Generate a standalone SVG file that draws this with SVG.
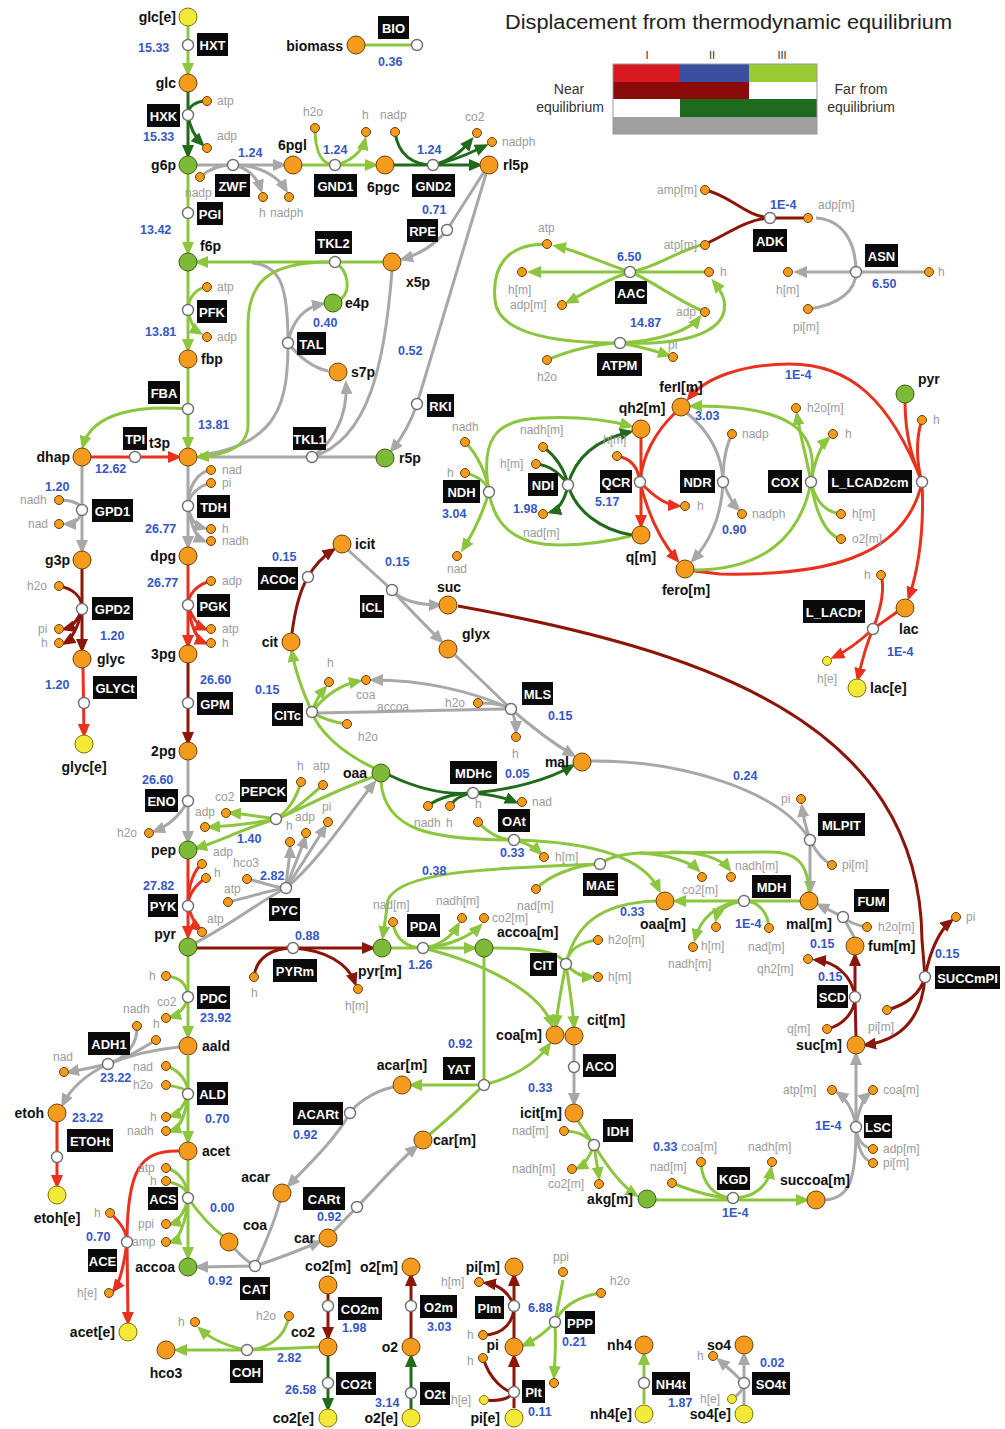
<svg xmlns="http://www.w3.org/2000/svg" width="1005" height="1429" viewBox="0 0 1005 1429">
<defs>
<style>
.l{fill:none;stroke-width:3}
.g{stroke:#8CC63E}.dg{stroke:#1F6B1A}.r{stroke:#E8321E}.dr{stroke:#8B1508}.gy{stroke:#A8A8A8}
.rx rect{fill:#0a0a0a}
.rx circle{fill:#fff;stroke:#6e6e6e;stroke-width:1.4}
.b{fill:#fff;font:bold 13px 'Liberation Sans',Arial,sans-serif;text-anchor:middle}
.f{fill:#3557C4;font:bold 12.5px 'Liberation Sans',Arial,sans-serif}
.mt{fill:#111;font:bold 14px 'Liberation Sans',Arial,sans-serif}
.e{text-anchor:end}.md{text-anchor:middle}
.ct{fill:#9b9b9b;font:12px 'Liberation Sans',Arial,sans-serif}
.M circle,.c circle{fill:#F49B1E;stroke:#6b4208;stroke-width:1}
.G circle{fill:#7DBA37;stroke:#3f5e14;stroke-width:1}
.Y circle,.cy circle{fill:#F3EA38;stroke:#7d7210;stroke-width:1}
.lg{font:14px 'Liberation Sans',Arial,sans-serif;fill:#333;text-anchor:middle}
</style>
<marker id="ag" viewBox="0 0 14 12" refX="10" refY="6" markerWidth="14" markerHeight="12" orient="auto" markerUnits="userSpaceOnUse"><path d="M0,0 L14,6 L0,12 z" fill="#8CC63E"/></marker>
<marker id="adg" viewBox="0 0 14 12" refX="10" refY="6" markerWidth="14" markerHeight="12" orient="auto" markerUnits="userSpaceOnUse"><path d="M0,0 L14,6 L0,12 z" fill="#1F6B1A"/></marker>
<marker id="ar" viewBox="0 0 14 12" refX="10" refY="6" markerWidth="14" markerHeight="12" orient="auto" markerUnits="userSpaceOnUse"><path d="M0,0 L14,6 L0,12 z" fill="#E8321E"/></marker>
<marker id="adr" viewBox="0 0 14 12" refX="10" refY="6" markerWidth="14" markerHeight="12" orient="auto" markerUnits="userSpaceOnUse"><path d="M0,0 L14,6 L0,12 z" fill="#8B1508"/></marker>
<marker id="agy" viewBox="0 0 14 12" refX="10" refY="6" markerWidth="14" markerHeight="12" orient="auto" markerUnits="userSpaceOnUse"><path d="M0,0 L14,6 L0,12 z" fill="#A8A8A8"/></marker>
</defs>
<rect width="1005" height="1429" fill="#fff"/>

<g id="legend">
<text x="505" y="29" textLength="447" lengthAdjust="spacingAndGlyphs" style="font:20px 'Liberation Sans',Arial,sans-serif;fill:#222">Displacement from thermodynamic equilibrium</text>
<text class="lg" x="647" y="59" style="font-size:11px">I</text>
<text class="lg" x="712" y="59" style="font-size:11px">II</text>
<text class="lg" x="782" y="59" style="font-size:11px">III</text>
<rect x="613" y="64" width="67" height="18" fill="#D71920"/>
<rect x="680" y="64" width="69" height="18" fill="#3A4FA0"/>
<rect x="749" y="64" width="68" height="18" fill="#99CC33"/>
<rect x="613" y="82" width="136" height="17" fill="#8B0A0A"/>
<rect x="749" y="82" width="68" height="17" fill="#fff"/>
<rect x="613" y="99" width="67" height="18" fill="#fff"/>
<rect x="680" y="99" width="137" height="18" fill="#1E6B1E"/>
<rect x="613" y="117" width="204" height="17" fill="#A0A0A0"/>
<rect x="613" y="64" width="204" height="70" fill="none" stroke="#999" stroke-width="1"/>
<text class="lg" x="569" y="94">Near</text>
<text class="lg" x="570" y="112">equilibrium</text>
<text class="lg" x="861" y="94">Far from</text>
<text class="lg" x="861" y="112">equilibrium</text>
</g>

<g id="connectors">
<path class="l g" d="M188,26 L188,73" marker-end="url(#ag)"/>
<path class="l dg" d="M188,92 L188,155" marker-end="url(#adg)"/>
<path class="l dg" d="M207,101 C196,101 188,106 188,115"/>
<path class="l dg" d="M188,115 C190,128 196,138 202,144" marker-end="url(#adg)"/>
<path class="l gy" d="M197,165 L283,165" marker-end="url(#agy)"/>
<path class="l gy" d="M200,177 C210,168 220,165 233,165"/>
<path class="l gy" d="M233,165 C247,168 257,177 261,190" marker-end="url(#agy)"/>
<path class="l gy" d="M233,165 C258,165 277,175 286,190" marker-end="url(#agy)"/>
<path class="l g" d="M302,165 L375,165" marker-end="url(#ag)"/>
<path class="l g" d="M315,128 C315,152 322,165 335,165"/>
<path class="l g" d="M335,165 C350,162 362,152 365,140" marker-end="url(#ag)"/>
<path class="l dg" d="M394,165 L479,165" marker-end="url(#adg)"/>
<path class="l dg" d="M395,132 C398,155 413,165 433,165"/>
<path class="l dg" d="M433,165 C450,161 463,150 471,140" marker-end="url(#adg)"/>
<path class="l dg" d="M433,165 C455,161 472,152 485,146" marker-end="url(#adg)"/>
<path class="l g" d="M356,45 L417,45"/>
<path class="l g" d="M188,174 L188,252" marker-end="url(#ag)"/>
<path class="l g" d="M188,271 L188,349" marker-end="url(#ag)"/>
<path class="l g" d="M207,287 C196,288 188,298 188,310"/>
<path class="l g" d="M188,310 C190,322 195,330 200,333" marker-end="url(#ag)"/>
<path class="l g" d="M188,368 L188,447" marker-end="url(#ag)"/>
<path class="l g" d="M188,409 C140,405 92,412 83,446" marker-end="url(#ag)"/>
<path class="l r" d="M91,457 L178,457" marker-end="url(#ar)"/>
<path class="l gy" d="M252,263 C280,265 288,285 288,343"/>
<path class="l gy" d="M288,343 C292,320 305,307 322,304" marker-end="url(#agy)"/>
<path class="l gy" d="M288,343 C300,358 314,368 328,371"/>
<path class="l gy" d="M288,343 C288,400 280,445 200,455"/>
<path class="l gy" d="M376,457 L198,457"/>
<path class="l gy" d="M312,457 C330,445 348,420 346,384" marker-end="url(#agy)"/>
<path class="l gy" d="M392,271 C385,360 370,440 312,457"/>
<path class="l gy" d="M484,172 L447,230 C435,245 418,255 403,259" marker-end="url(#agy)"/>
<path class="l gy" d="M486,174 L417,404 C410,425 400,440 392,450" marker-end="url(#agy)"/>
<path class="l g" d="M383,262 L198,262" marker-end="url(#ag)"/>
<path class="l g" d="M335,262 C350,272 350,292 341,299"/>
<path class="l g" d="M330,262 C265,262 248,285 248,325 L248,425 C248,448 225,455 199,457" marker-end="url(#ag)"/>
<path class="l gy" d="M188,466 L188,546" marker-end="url(#agy)"/>
<path class="l gy" d="M211,470 C197,472 188,487 188,506"/>
<path class="l gy" d="M211,483 C198,486 189,495 188,506"/>
<path class="l gy" d="M188,506 C190,518 196,526 204,528" marker-end="url(#agy)"/>
<path class="l gy" d="M188,506 C191,526 197,538 204,541" marker-end="url(#agy)"/>
<path class="l gy" d="M82,466 L82,550" marker-end="url(#agy)"/>
<path class="l gy" d="M59,500 C72,500 82,504 82,510"/>
<path class="l gy" d="M82,510 C80,520 74,524 66,524" marker-end="url(#agy)"/>
<path class="l dr" d="M82,569 L82,649" marker-end="url(#adr)"/>
<path class="l dr" d="M59,586 C75,589 82,598 82,609"/>
<path class="l dr" d="M82,609 C78,620 72,627 65,629" marker-end="url(#adr)"/>
<path class="l dr" d="M82,609 C78,630 70,640 65,643" marker-end="url(#adr)"/>
<path class="l r" d="M83,668 L84,734" marker-end="url(#ar)"/>
<path class="l r" d="M188,565 L188,645" marker-end="url(#ar)"/>
<path class="l r" d="M211,581 C198,584 188,594 188,605"/>
<path class="l r" d="M188,605 C191,616 198,626 205,629" marker-end="url(#ar)"/>
<path class="l r" d="M188,605 C191,628 198,640 205,643" marker-end="url(#ar)"/>
<path class="l dr" d="M188,663 L188,742" marker-end="url(#adr)"/>
<path class="l gy" d="M188,760 L188,841" marker-end="url(#agy)"/>
<path class="l gy" d="M188,801 C180,815 168,826 155,831" marker-end="url(#agy)"/>
<path class="l g" d="M373,777 C330,792 300,810 276,819"/>
<path class="l g" d="M301,782 C296,800 286,813 276,819"/>
<path class="l g" d="M323,785 C305,800 290,815 276,819"/>
<path class="l g" d="M276,819 C245,828 218,842 197,848" marker-end="url(#ag)"/>
<path class="l g" d="M276,819 C262,817 245,814 231,813" marker-end="url(#ag)"/>
<path class="l g" d="M276,819 C255,823 230,826 210,827" marker-end="url(#ag)"/>
<path class="l gy" d="M195,943 C230,925 262,900 286,888 C320,860 352,810 374,783" marker-end="url(#agy)"/>
<path class="l gy" d="M247,879 C262,882 276,888 286,888"/>
<path class="l gy" d="M228,902 C250,897 270,890 286,888"/>
<path class="l gy" d="M286,888 C287,870 290,858 290,848" marker-end="url(#agy)"/>
<path class="l gy" d="M286,888 C294,866 302,848 305,838" marker-end="url(#agy)"/>
<path class="l gy" d="M286,888 C305,860 317,840 325,827" marker-end="url(#agy)"/>
<path class="l r" d="M188,859 L188,936" marker-end="url(#ar)"/>
<path class="l r" d="M202,864 C194,870 188,885 188,906"/>
<path class="l r" d="M206,878 C196,884 188,895 188,906"/>
<path class="l r" d="M188,906 C192,918 197,927 200,929" marker-end="url(#ar)"/>
<path class="l dr" d="M197,948 L372,948" marker-end="url(#adr)"/>
<path class="l dr" d="M254,977 C256,957 273,948 293,948"/>
<path class="l dr" d="M293,948 C325,950 348,963 355,983" marker-end="url(#adr)"/>
<path class="l g" d="M188,956 L188,1036" marker-end="url(#ag)"/>
<path class="l g" d="M166,976 C180,977 188,985 188,997"/>
<path class="l g" d="M188,997 C186,1007 178,1015 171,1017" marker-end="url(#ag)"/>
<path class="l gy" d="M179,1047 C150,1050 125,1057 108,1064 C85,1075 70,1090 63,1104" marker-end="url(#agy)"/>
<path class="l gy" d="M137,1026 C138,1045 125,1058 108,1064"/>
<path class="l gy" d="M156,1040 C140,1050 122,1060 108,1064"/>
<path class="l gy" d="M108,1064 C95,1067 80,1070 69,1072" marker-end="url(#agy)"/>
<path class="l r" d="M57,1122 L57,1185" marker-end="url(#ar)"/>
<path class="l g" d="M188,1056 L188,1141" marker-end="url(#ag)"/>
<path class="l g" d="M166,1066 C180,1070 188,1082 188,1094"/>
<path class="l g" d="M166,1085 C180,1087 188,1090 188,1094"/>
<path class="l g" d="M188,1094 C185,1105 178,1114 171,1116" marker-end="url(#ag)"/>
<path class="l g" d="M188,1094 C186,1114 180,1128 171,1131" marker-end="url(#ag)"/>
<path class="l g" d="M188,1159 L188,1257" marker-end="url(#ag)"/>
<path class="l g" d="M166,1168 C180,1171 188,1185 188,1198"/>
<path class="l g" d="M166,1181 C180,1184 188,1190 188,1198"/>
<path class="l g" d="M223,1236 C212,1228 198,1212 188,1198"/>
<path class="l g" d="M188,1198 C186,1210 178,1222 171,1224" marker-end="url(#ag)"/>
<path class="l g" d="M188,1198 C186,1225 178,1240 171,1242" marker-end="url(#ag)"/>
<path class="l r" d="M179,1151 C140,1150 127,1170 127,1242 L128,1322" marker-end="url(#ar)"/>
<path class="l r" d="M110,1213 C120,1222 127,1232 127,1242"/>
<path class="l r" d="M127,1242 C124,1265 120,1282 114,1290" marker-end="url(#ar)"/>
<path class="l gy" d="M255,1266 L198,1267" marker-end="url(#agy)"/>
<path class="l gy" d="M235,1249 C242,1257 248,1262 255,1266"/>
<path class="l gy" d="M280,1201 C274,1225 262,1250 255,1266"/>
<path class="l gy" d="M255,1266 C280,1258 300,1250 319,1242" marker-end="url(#agy)"/>
<path class="l gy" d="M333,1232 L357,1207 C380,1183 400,1160 416,1147" marker-end="url(#agy)"/>
<path class="l gy" d="M393,1087 C372,1092 356,1104 350,1113 C335,1140 308,1165 289,1185" marker-end="url(#agy)"/>
<path class="l g" d="M484,957 L484,1085"/>
<path class="l g" d="M484,1085 L412,1085" marker-end="url(#ag)"/>
<path class="l g" d="M430,1134 C450,1118 470,1098 484,1085"/>
<path class="l g" d="M484,1085 C510,1078 535,1065 549,1045" marker-end="url(#ag)"/>
<path class="l g" d="M391,948 L474,948" marker-end="url(#ag)"/>
<path class="l g" d="M393,922 C395,940 408,948 423,948"/>
<path class="l g" d="M423,948 C440,946 452,936 458,925" marker-end="url(#ag)"/>
<path class="l g" d="M423,948 C450,946 470,936 480,926" marker-end="url(#ag)"/>
<path class="l g" d="M423,948 C480,962 540,990 552,1025" marker-end="url(#ag)"/>
<path class="l g" d="M493,948 C530,948 558,950 566,964"/>
<path class="l g" d="M656,901 C600,903 575,925 566,964"/>
<path class="l g" d="M566,964 C570,990 573,1010 574,1026" marker-end="url(#ag)"/>
<path class="l g" d="M566,964 C561,990 557,1010 556,1025" marker-end="url(#ag)"/>
<path class="l g" d="M598,940 C580,942 568,950 566,964"/>
<path class="l g" d="M566,964 C575,975 585,977 592,977" marker-end="url(#ag)"/>
<path class="l gy" d="M574,1044 L574,1103" marker-end="url(#agy)"/>
<path class="l g" d="M578,1121 L594,1145 C608,1168 622,1186 636,1195" marker-end="url(#ag)"/>
<path class="l g" d="M564,1131 C580,1131 590,1138 594,1145"/>
<path class="l g" d="M594,1145 C590,1156 584,1165 578,1168" marker-end="url(#ag)"/>
<path class="l g" d="M594,1145 C596,1160 598,1170 599,1177" marker-end="url(#ag)"/>
<path class="l g" d="M656,1200 L806,1200" marker-end="url(#ag)"/>
<path class="l g" d="M701,1162 C702,1185 715,1197 733,1198"/>
<path class="l g" d="M672,1183 C695,1192 715,1198 733,1198"/>
<path class="l g" d="M733,1198 C755,1198 768,1185 771,1169" marker-end="url(#ag)"/>
<path class="l gy" d="M825,1200 C850,1198 856,1180 856,1127 L856,1055" marker-end="url(#agy)"/>
<path class="l gy" d="M856,1127 C854,1110 845,1098 838,1093" marker-end="url(#agy)"/>
<path class="l gy" d="M856,1127 C858,1110 864,1098 869,1094" marker-end="url(#agy)"/>
<path class="l gy" d="M873,1149 C862,1147 857,1140 856,1127"/>
<path class="l gy" d="M873,1163 C862,1160 857,1145 856,1127"/>
<path class="l dr" d="M856,1036 L855,997 L855,956" marker-end="url(#adr)"/>
<path class="l dr" d="M827,1029 C845,1025 855,1010 855,997"/>
<path class="l dr" d="M855,997 C852,975 835,962 816,960" marker-end="url(#adr)"/>
<path class="l dr" d="M458,606 C700,650 920,720 922,940 L925,977 C922,1020 900,1040 866,1045" marker-end="url(#adr)"/>
<path class="l dr" d="M925,977 C930,950 940,930 951,921" marker-end="url(#adr)"/>
<path class="l dr" d="M887,1010 C905,1005 920,995 925,977"/>
<path class="l gy" d="M854,937 L843,917 L819,905" marker-end="url(#agy)"/>
<path class="l gy" d="M867,927 C855,925 848,922 843,917"/>
<path class="l gy" d="M590,761 C680,760 780,790 810,840 L810,891" marker-end="url(#agy)"/>
<path class="l gy" d="M810,840 C805,825 803,815 802,807" marker-end="url(#agy)"/>
<path class="l gy" d="M832,865 C822,860 815,850 810,840"/>
<path class="l g" d="M800,901 L744,901 L676,901" marker-end="url(#ag)"/>
<path class="l g" d="M769,928 C768,912 758,901 744,901"/>
<path class="l g" d="M744,901 C728,903 718,910 716,919" marker-end="url(#ag)"/>
<path class="l g" d="M744,901 C715,903 700,920 695,939" marker-end="url(#ag)"/>
<path class="l g" d="M809,892 C808,862 795,852 770,852 L640,853 C620,854 608,858 600,864"/>
<path class="l g" d="M600,864 C500,868 400,870 388,900 L383,936" marker-end="url(#ag)"/>
<path class="l g" d="M640,853 C670,855 690,862 698,870" marker-end="url(#ag)"/>
<path class="l g" d="M670,852 C705,852 722,860 729,869" marker-end="url(#ag)"/>
<path class="l g" d="M536,889 C548,876 575,865 600,864"/>
<path class="l g" d="M381,782 C385,830 430,840 514,840 C600,842 645,860 659,890" marker-end="url(#ag)"/>
<path class="l g" d="M478,822 C490,835 502,840 514,840"/>
<path class="l g" d="M514,840 C528,843 536,849 540,853" marker-end="url(#ag)"/>
<path class="l dg" d="M389,775 C420,790 450,795 473,793 C510,790 548,780 572,766" marker-end="url(#adg)"/>
<path class="l dg" d="M428,806 C440,796 460,793 473,793"/>
<path class="l dg" d="M450,806 C455,798 465,794 473,793"/>
<path class="l dg" d="M473,793 C495,795 508,799 515,802" marker-end="url(#adg)"/>
<path class="l gy" d="M348,550 L392,590 C408,608 428,628 441,641" marker-end="url(#agy)"/>
<path class="l gy" d="M392,590 C400,600 418,605 439,605" marker-end="url(#agy)"/>
<path class="l gy" d="M455,655 L511,709 C535,730 556,745 573,755" marker-end="url(#agy)"/>
<path class="l gy" d="M511,709 C470,690 420,680 373,680" marker-end="url(#agy)"/>
<path class="l gy" d="M318,713 C400,712 470,709 511,709"/>
<path class="l gy" d="M478,703 C494,703 505,705 511,709"/>
<path class="l gy" d="M511,709 C515,718 516,726 516,731" marker-end="url(#agy)"/>
<path class="l g" d="M374,768 C340,752 318,730 312,712 C302,690 295,670 292,652" marker-end="url(#ag)"/>
<path class="l g" d="M312,712 C325,695 340,685 359,681" marker-end="url(#ag)"/>
<path class="l g" d="M312,712 C315,702 320,694 325,688" marker-end="url(#ag)"/>
<path class="l g" d="M347,724 C330,722 318,716 312,712"/>
<path class="l dr" d="M292,633 C295,610 300,590 308,577 C314,566 324,556 333,550" marker-end="url(#adr)"/>
<path class="l g" d="M465,442 C478,455 487,475 489,492"/>
<path class="l g" d="M465,473 C478,476 487,483 489,492"/>
<path class="l g" d="M489,492 C482,515 472,535 463,549" marker-end="url(#ag)"/>
<path class="l g" d="M489,492 C480,440 495,420 540,418 C580,416 608,420 630,426" marker-end="url(#ag)"/>
<path class="l g" d="M489,492 C495,530 520,545 560,545 C590,545 615,540 631,536"/>
<path class="l dg" d="M543,447 C555,455 565,470 568,485"/>
<path class="l dg" d="M536,464 C550,465 562,475 568,485"/>
<path class="l dg" d="M568,485 C565,500 558,510 551,512" marker-end="url(#adg)"/>
<path class="l dg" d="M568,485 C575,458 595,440 630,432" marker-end="url(#adg)"/>
<path class="l dg" d="M632,535 C600,530 575,510 568,485"/>
<path class="l r" d="M641,438 L641,525" marker-end="url(#ar)"/>
<path class="l r" d="M617,456 C630,458 638,466 640,482"/>
<path class="l r" d="M675,413 C655,432 642,457 640,482"/>
<path class="l r" d="M640,482 C648,515 662,542 677,560" marker-end="url(#ar)"/>
<path class="l r" d="M640,482 C655,498 667,505 678,506" marker-end="url(#ar)"/>
<path class="l gy" d="M687,413 C710,432 722,456 723,482 C722,520 706,546 693,560" marker-end="url(#agy)"/>
<path class="l gy" d="M732,434 C726,446 723,462 723,482"/>
<path class="l gy" d="M723,482 C728,495 734,505 738,509" marker-end="url(#agy)"/>
<path class="l r" d="M922,482 C905,560 820,576 720,574 L694,571"/>
<path class="l g" d="M694,570 C760,570 800,540 811,482 C820,430 790,405 692,406" marker-end="url(#ag)"/>
<path class="l g" d="M811,482 C806,455 800,435 797,415" marker-end="url(#ag)"/>
<path class="l g" d="M811,482 C815,460 820,446 828,439" marker-end="url(#ag)"/>
<path class="l g" d="M841,514 C825,512 815,500 811,482"/>
<path class="l g" d="M841,539 C825,535 815,510 811,482"/>
<path class="l r" d="M922,482 C890,400 850,364 790,364 C742,364 705,378 689,398" marker-end="url(#ar)"/>
<path class="l r" d="M905,402 C905,440 915,465 922,482"/>
<path class="l r" d="M922,420 C915,440 917,465 922,482"/>
<path class="l r" d="M922,482 C925,540 915,580 909,597" marker-end="url(#ar)"/>
<path class="l r" d="M897,612 L873,629 C866,645 861,665 858,678" marker-end="url(#ar)"/>
<path class="l r" d="M881,575 C886,592 878,616 873,629"/>
<path class="l r" d="M873,629 C860,641 845,652 834,657" marker-end="url(#ar)"/>
<path class="l dr" d="M705,190 C730,195 745,216 770,218"/>
<path class="l dr" d="M705,244 C725,236 745,219 770,218"/>
<path class="l dr" d="M770,218 L808,218"/>
<path class="l gy" d="M816,218 C845,220 856,245 856,272"/>
<path class="l gy" d="M808,309 C840,305 856,290 856,272"/>
<path class="l gy" d="M856,272 L929,272"/>
<path class="l gy" d="M856,272 L797,272" marker-end="url(#agy)"/>
<path class="l g" d="M630,272 C600,262 575,250 556,246" marker-end="url(#ag)"/>
<path class="l g" d="M630,272 L531,272" marker-end="url(#ag)"/>
<path class="l g" d="M630,272 C600,282 580,296 568,302" marker-end="url(#ag)"/>
<path class="l g" d="M705,244 C678,250 656,268 630,272"/>
<path class="l g" d="M709,272 L630,272"/>
<path class="l g" d="M705,312 C675,300 652,280 630,272"/>
<path class="l g" d="M547,244 C505,244 492,268 495,300 C498,335 560,343 620,343"/>
<path class="l g" d="M547,360 C570,350 600,343 620,343"/>
<path class="l g" d="M620,343 C660,341 690,330 699,318" marker-end="url(#ag)"/>
<path class="l g" d="M620,343 C690,346 730,330 724,300 C722,292 718,287 714,282" marker-end="url(#ag)"/>
<path class="l g" d="M620,343 C640,346 658,352 668,355" marker-end="url(#ag)"/>
<path class="l g" d="M644,1404 L644,1355" marker-end="url(#ag)"/>
<path class="l gy" d="M744,1405 L744,1355" marker-end="url(#agy)"/>
<path class="l gy" d="M732,1399 C738,1395 744,1390 744,1383"/>
<path class="l gy" d="M744,1383 C735,1374 726,1366 719,1360" marker-end="url(#agy)"/>
<path class="l dr" d="M328,1294 L328,1337" marker-end="url(#adr)"/>
<path class="l dg" d="M328,1356 L328,1408" marker-end="url(#adg)"/>
<path class="l g" d="M319,1347 L247,1350 L177,1350" marker-end="url(#ag)"/>
<path class="l g" d="M289,1316 C285,1340 265,1349 247,1350"/>
<path class="l g" d="M247,1350 C225,1346 210,1338 200,1329" marker-end="url(#ag)"/>
<path class="l dr" d="M411,1338 L411,1276" marker-end="url(#adr)"/>
<path class="l dg" d="M411,1409 L411,1357" marker-end="url(#adg)"/>
<path class="l dr" d="M514,1338 L514,1276" marker-end="url(#adr)"/>
<path class="l dr" d="M483,1335 C505,1335 514,1320 514,1306"/>
<path class="l dr" d="M514,1306 C510,1294 500,1285 486,1283" marker-end="url(#adr)"/>
<path class="l dr" d="M514,1408 L514,1357" marker-end="url(#adr)"/>
<path class="l dr" d="M483,1358 C490,1380 505,1392 514,1392"/>
<path class="l dr" d="M484,1400 C500,1402 510,1398 514,1392"/>
<path class="l g" d="M563,1280 L555,1322"/>
<path class="l g" d="M601,1293 C577,1296 561,1308 555,1322"/>
<path class="l g" d="M555,1322 C545,1333 535,1340 524,1345" marker-end="url(#ag)"/>
<path class="l g" d="M555,1322 C556,1345 555,1362 554,1376" marker-end="url(#ag)"/>
</g>

<g id="cofactors">
<g id="c1" class="c"><circle cx="207" cy="101" r="4.5"/><text class="ct" x="217" y="105">atp</text></g>
<g id="c2" class="c"><circle cx="207" cy="148" r="4.5"/><text class="ct" x="217" y="140">adp</text></g>
<g id="c3" class="c"><circle cx="200" cy="177" r="4.5"/><text class="ct" x="185" y="197">nadp</text></g>
<g id="c4" class="c"><circle cx="263" cy="197" r="4.5"/><text class="ct" x="259" y="217">h</text></g>
<g id="c5" class="c"><circle cx="289" cy="197" r="4.5"/><text class="ct" x="270" y="217">nadph</text></g>
<g id="c6" class="c"><circle cx="315" cy="128" r="4.5"/><text class="ct" x="303" y="116">h2o</text></g>
<g id="c7" class="c"><circle cx="366" cy="132" r="4.5"/><text class="ct" x="362" y="119">h</text></g>
<g id="c8" class="c"><circle cx="395" cy="132" r="4.5"/><text class="ct" x="380" y="119">nadp</text></g>
<g id="c9" class="c"><circle cx="477" cy="133" r="4.5"/><text class="ct" x="465" y="121">co2</text></g>
<g id="c10" class="c"><circle cx="492" cy="142" r="4.5"/><text class="ct" x="502" y="146">nadph</text></g>
<g id="c11" class="c"><circle cx="207" cy="287" r="4.5"/><text class="ct" x="217" y="291">atp</text></g>
<g id="c12" class="c"><circle cx="207" cy="337" r="4.5"/><text class="ct" x="217" y="341">adp</text></g>
<g id="c13" class="c"><circle cx="547" cy="244" r="4.5"/><text class="ct" x="538" y="232">atp</text></g>
<g id="c14" class="c"><circle cx="522" cy="272" r="4.5"/><text class="ct" x="508" y="294">h[m]</text></g>
<g id="c15" class="c"><circle cx="562" cy="305" r="4.5"/><text class="ct" x="510" y="309">adp[m]</text></g>
<g id="c16" class="c"><circle cx="705" cy="245" r="4.5"/><text class="ct e" x="697" y="249">atp[m]</text></g>
<g id="c17" class="c"><circle cx="709" cy="272" r="4.5"/><text class="ct" x="720" y="276">h</text></g>
<g id="c18" class="c"><circle cx="705" cy="312" r="4.5"/><text class="ct e" x="696" y="316">adp</text></g>
<g id="c19" class="c"><circle cx="547" cy="360" r="4.5"/><text class="ct" x="537" y="381">h2o</text></g>
<g id="c20" class="c"><circle cx="673" cy="357" r="4.5"/><text class="ct" x="668" y="349">pi</text></g>
<g id="c21" class="c"><circle cx="705" cy="190" r="4.5"/><text class="ct e" x="697" y="194">amp[m]</text></g>
<g id="c22" class="c"><circle cx="808" cy="218" r="4.5"/><text class="ct" x="818" y="209">adp[m]</text></g>
<g id="c23" class="c"><circle cx="788" cy="272" r="4.5"/><text class="ct" x="776" y="294">h[m]</text></g>
<g id="c24" class="c"><circle cx="808" cy="309" r="4.5"/><text class="ct" x="793" y="331">pi[m]</text></g>
<g id="c25" class="c"><circle cx="929" cy="272" r="4.5"/><text class="ct" x="938" y="276">h</text></g>
<g id="c26" class="c"><circle cx="211" cy="470" r="4.5"/><text class="ct" x="222" y="474">nad</text></g>
<g id="c27" class="c"><circle cx="211" cy="483" r="4.5"/><text class="ct" x="222" y="487">pi</text></g>
<g id="c28" class="c"><circle cx="211" cy="529" r="4.5"/><text class="ct" x="222" y="533">h</text></g>
<g id="c29" class="c"><circle cx="211" cy="541" r="4.5"/><text class="ct" x="222" y="545">nadh</text></g>
<g id="c30" class="c"><circle cx="59" cy="500" r="4.5"/><text class="ct" x="20" y="504">nadh</text></g>
<g id="c31" class="c"><circle cx="59" cy="524" r="4.5"/><text class="ct" x="28" y="528">nad</text></g>
<g id="c32" class="c"><circle cx="59" cy="586" r="4.5"/><text class="ct" x="27" y="590">h2o</text></g>
<g id="c33" class="c"><circle cx="59" cy="629" r="4.5"/><text class="ct" x="38" y="633">pi</text></g>
<g id="c34" class="c"><circle cx="59" cy="643" r="4.5"/><text class="ct" x="41" y="647">h</text></g>
<g id="c35" class="c"><circle cx="211" cy="581" r="4.5"/><text class="ct" x="222" y="585">adp</text></g>
<g id="c36" class="c"><circle cx="211" cy="629" r="4.5"/><text class="ct" x="222" y="633">atp</text></g>
<g id="c37" class="c"><circle cx="211" cy="643" r="4.5"/><text class="ct" x="222" y="647">h</text></g>
<g id="c38" class="c"><circle cx="149" cy="833" r="4.5"/><text class="ct" x="117" y="837">h2o</text></g>
<g id="c39" class="c"><circle cx="301" cy="782" r="4.5"/><text class="ct" x="297" y="770">h</text></g>
<g id="c40" class="c"><circle cx="323" cy="785" r="4.5"/><text class="ct" x="313" y="770">atp</text></g>
<g id="c41" class="c"><circle cx="226" cy="813" r="4.5"/><text class="ct" x="215" y="801">co2</text></g>
<g id="c42" class="c"><circle cx="205" cy="827" r="4.5"/><text class="ct" x="195" y="816">adp</text></g>
<g id="c43" class="c"><circle cx="290" cy="842" r="4.5"/><text class="ct" x="286" y="830">h</text></g>
<g id="c44" class="c"><circle cx="306" cy="833" r="4.5"/><text class="ct" x="295" y="821">adp</text></g>
<g id="c45" class="c"><circle cx="328" cy="822" r="4.5"/><text class="ct" x="322" y="811">pi</text></g>
<g id="c46" class="c"><circle cx="247" cy="879" r="4.5"/><text class="ct" x="233" y="867">hco3</text></g>
<g id="c47" class="c"><circle cx="228" cy="902" r="4.5"/><text class="ct" x="224" y="893">atp</text></g>
<g id="c48" class="c"><circle cx="202" cy="864" r="4.5"/><text class="ct" x="213" y="856">adp</text></g>
<g id="c49" class="c"><circle cx="206" cy="878" r="4.5"/><text class="ct" x="214" y="877">h</text></g>
<g id="c50" class="c"><circle cx="202" cy="932" r="4.5"/><text class="ct" x="207" y="923">atp</text></g>
<g id="c51" class="c"><circle cx="254" cy="977" r="4.5"/><text class="ct" x="251" y="997">h</text></g>
<g id="c52" class="c"><circle cx="358" cy="989" r="4.5"/><text class="ct" x="345" y="1010">h[m]</text></g>
<g id="c53" class="c"><circle cx="166" cy="976" r="4.5"/><text class="ct" x="149" y="980">h</text></g>
<g id="c54" class="c"><circle cx="166" cy="1018" r="4.5"/><text class="ct" x="157" y="1006">co2</text></g>
<g id="c55" class="c"><circle cx="137" cy="1026" r="4.5"/><text class="ct" x="123" y="1013">nadh</text></g>
<g id="c56" class="c"><circle cx="156" cy="1040" r="4.5"/><text class="ct" x="153" y="1028">h</text></g>
<g id="c57" class="c"><circle cx="64" cy="1072" r="4.5"/><text class="ct" x="53" y="1061">nad</text></g>
<g id="c58" class="c"><circle cx="166" cy="1066" r="4.5"/><text class="ct" x="133" y="1071">nad</text></g>
<g id="c59" class="c"><circle cx="166" cy="1085" r="4.5"/><text class="ct" x="133" y="1089">h2o</text></g>
<g id="c60" class="c"><circle cx="166" cy="1117" r="4.5"/><text class="ct" x="150" y="1121">h</text></g>
<g id="c61" class="c"><circle cx="166" cy="1131" r="4.5"/><text class="ct" x="127" y="1135">nadh</text></g>
<g id="c62" class="c"><circle cx="166" cy="1168" r="4.5"/><text class="ct" x="138" y="1172">atp</text></g>
<g id="c63" class="c"><circle cx="166" cy="1181" r="4.5"/><text class="ct" x="150" y="1185">h</text></g>
<g id="c64" class="c"><circle cx="166" cy="1224" r="4.5"/><text class="ct" x="138" y="1228">ppi</text></g>
<g id="c65" class="c"><circle cx="166" cy="1242" r="4.5"/><text class="ct" x="132" y="1246">amp</text></g>
<g id="c66" class="c"><circle cx="110" cy="1213" r="4.5"/><text class="ct" x="94" y="1217">h</text></g>
<g id="c67" class="c"><circle cx="109" cy="1293" r="4.5"/><text class="ct" x="77" y="1297">h[e]</text></g>
<g id="c68" class="c"><circle cx="195" cy="1322" r="4.5"/><text class="ct" x="178" y="1326">h</text></g>
<g id="c69" class="c"><circle cx="289" cy="1316" r="4.5"/><text class="ct" x="256" y="1320">h2o</text></g>
<g id="c70" class="c"><circle cx="479" cy="1282" r="4.5"/><text class="ct" x="441" y="1286">h[m]</text></g>
<g id="c71" class="c"><circle cx="483" cy="1335" r="4.5"/><text class="ct" x="467" y="1339">h</text></g>
<g id="c72" class="c"><circle cx="483" cy="1358" r="4.5"/><text class="ct" x="467" y="1365">h</text></g>
<g id="c73" class="cy"><circle cx="484" cy="1400" r="4.5"/><text class="ct" x="451" y="1404">h[e]</text></g>
<g id="c74" class="c"><circle cx="563" cy="1272" r="4.5"/><text class="ct" x="553" y="1261">ppi</text></g>
<g id="c75" class="c"><circle cx="601" cy="1293" r="4.5"/><text class="ct" x="610" y="1285">h2o</text></g>
<g id="c76" class="c"><circle cx="554" cy="1383" r="4.5"/></g>
<g id="c77" class="c"><circle cx="713" cy="1356" r="4.5"/><text class="ct" x="697" y="1360">h</text></g>
<g id="c78" class="cy"><circle cx="732" cy="1399" r="4.5"/><text class="ct" x="700" y="1403">h[e]</text></g>
<g id="c79" class="c"><circle cx="465" cy="442" r="4.5"/><text class="ct" x="452" y="431">nadh</text></g>
<g id="c80" class="c"><circle cx="465" cy="473" r="4.5"/><text class="ct" x="447" y="477">h</text></g>
<g id="c81" class="c"><circle cx="457" cy="556" r="4.5"/><text class="ct" x="447" y="573">nad</text></g>
<g id="c82" class="c"><circle cx="543" cy="447" r="4.5"/><text class="ct" x="520" y="434">nadh[m]</text></g>
<g id="c83" class="c"><circle cx="536" cy="464" r="4.5"/><text class="ct" x="500" y="468">h[m]</text></g>
<g id="c84" class="c"><circle cx="543" cy="514" r="4.5"/><text class="ct" x="523" y="537">nad[m]</text></g>
<g id="c85" class="c"><circle cx="617" cy="456" r="4.5"/><text class="ct" x="603" y="444">h[m]</text></g>
<g id="c86" class="c"><circle cx="685" cy="506" r="4.5"/><text class="ct" x="697" y="510">h</text></g>
<g id="c87" class="c"><circle cx="732" cy="434" r="4.5"/><text class="ct" x="742" y="438">nadp</text></g>
<g id="c88" class="c"><circle cx="742" cy="514" r="4.5"/><text class="ct" x="752" y="518">nadph</text></g>
<g id="c89" class="c"><circle cx="796" cy="408" r="4.5"/><text class="ct" x="807" y="412">h2o[m]</text></g>
<g id="c90" class="c"><circle cx="833" cy="434" r="4.5"/><text class="ct" x="845" y="438">h</text></g>
<g id="c91" class="c"><circle cx="841" cy="514" r="4.5"/><text class="ct" x="852" y="518">h[m]</text></g>
<g id="c92" class="c"><circle cx="841" cy="539" r="4.5"/><text class="ct" x="852" y="543">o2[m]</text></g>
<g id="c93" class="c"><circle cx="922" cy="420" r="4.5"/><text class="ct" x="933" y="424">h</text></g>
<g id="c94" class="c"><circle cx="881" cy="575" r="4.5"/><text class="ct" x="864" y="579">h</text></g>
<g id="c95" class="cy"><circle cx="827" cy="661" r="4.5"/><text class="ct" x="817" y="683">h[e]</text></g>
<g id="c96" class="c"><circle cx="478" cy="703" r="4.5"/><text class="ct" x="445" y="707">h2o</text></g>
<g id="c97" class="c"><circle cx="516" cy="737" r="4.5"/><text class="ct" x="512" y="758">h</text></g>
<g id="c98" class="c"><circle cx="366" cy="680" r="4.5"/><text class="ct" x="356" y="699">coa</text><text class="ct" x="377" y="711">accoa</text></g>
<g id="c99" class="c"><circle cx="329" cy="682" r="4.5"/><text class="ct" x="327" y="667">h</text></g>
<g id="c100" class="c"><circle cx="347" cy="724" r="4.5"/><text class="ct" x="358" y="741">h2o</text></g>
<g id="c101" class="c"><circle cx="428" cy="806" r="4.5"/><text class="ct" x="414" y="827">nadh</text></g>
<g id="c102" class="c"><circle cx="450" cy="806" r="4.5"/><text class="ct" x="446" y="827">h</text></g>
<g id="c103" class="c"><circle cx="478" cy="822" r="4.5"/><text class="ct" x="475" y="808">h</text></g>
<g id="c104" class="c"><circle cx="522" cy="802" r="4.5"/><text class="ct" x="532" y="806">nad</text></g>
<g id="c105" class="c"><circle cx="544" cy="857" r="4.5"/><text class="ct" x="555" y="861">h[m]</text></g>
<g id="c106" class="c"><circle cx="536" cy="889" r="4.5"/><text class="ct" x="517" y="910">nad[m]</text></g>
<g id="c107" class="c"><circle cx="393" cy="922" r="4.5"/><text class="ct" x="373" y="909">nad[m]</text></g>
<g id="c108" class="c"><circle cx="462" cy="918" r="4.5"/><text class="ct" x="436" y="905">nadh[m]</text></g>
<g id="c109" class="c"><circle cx="484" cy="918" r="4.5"/><text class="ct" x="492" y="922">co2[m]</text></g>
<g id="c110" class="c"><circle cx="598" cy="940" r="4.5"/><text class="ct" x="608" y="944">h2o[m]</text></g>
<g id="c111" class="c"><circle cx="598" cy="977" r="4.5"/><text class="ct" x="608" y="981">h[m]</text></g>
<g id="c112" class="c"><circle cx="702" cy="877" r="4.5"/><text class="ct" x="682" y="894">co2[m]</text></g>
<g id="c113" class="c"><circle cx="731" cy="877" r="4.5"/><text class="ct" x="735" y="870">nadh[m]</text></g>
<g id="c114" class="c"><circle cx="716" cy="927" r="4.5"/><text class="ct" x="668" y="968">nadh[m]</text></g>
<g id="c115" class="c"><circle cx="693" cy="947" r="4.5"/><text class="ct" x="701" y="950">h[m]</text></g>
<g id="c116" class="c"><circle cx="769" cy="928" r="4.5"/><text class="ct" x="748" y="951">nad[m]</text></g>
<g id="c117" class="c"><circle cx="801" cy="799" r="4.5"/><text class="ct" x="781" y="803">pi</text></g>
<g id="c118" class="c"><circle cx="832" cy="865" r="4.5"/><text class="ct" x="842" y="869">pi[m]</text></g>
<g id="c119" class="c"><circle cx="867" cy="927" r="4.5"/><text class="ct" x="878" y="931">h2o[m]</text></g>
<g id="c120" class="c"><circle cx="808" cy="959" r="4.5"/><text class="ct" x="757" y="973">qh2[m]</text></g>
<g id="c121" class="c"><circle cx="827" cy="1029" r="4.5"/><text class="ct" x="787" y="1033">q[m]</text></g>
<g id="c122" class="c"><circle cx="956" cy="917" r="4.5"/><text class="ct" x="966" y="921">pi</text></g>
<g id="c123" class="c"><circle cx="887" cy="1010" r="4.5"/><text class="ct" x="868" y="1031">pi[m]</text></g>
<g id="c124" class="c"><circle cx="832" cy="1090" r="4.5"/><text class="ct" x="783" y="1094">atp[m]</text></g>
<g id="c125" class="c"><circle cx="873" cy="1090" r="4.5"/><text class="ct" x="883" y="1094">coa[m]</text></g>
<g id="c126" class="c"><circle cx="873" cy="1149" r="4.5"/><text class="ct" x="883" y="1153">adp[m]</text></g>
<g id="c127" class="c"><circle cx="873" cy="1163" r="4.5"/><text class="ct" x="883" y="1167">pi[m]</text></g>
<g id="c128" class="c"><circle cx="701" cy="1162" r="4.5"/><text class="ct" x="681" y="1151">coa[m]</text></g>
<g id="c129" class="c"><circle cx="672" cy="1183" r="4.5"/><text class="ct" x="650" y="1171">nad[m]</text></g>
<g id="c130" class="c"><circle cx="772" cy="1162" r="4.5"/><text class="ct" x="748" y="1151">nadh[m]</text></g>
<g id="c131" class="c"><circle cx="564" cy="1131" r="4.5"/><text class="ct" x="512" y="1135">nad[m]</text></g>
<g id="c132" class="c"><circle cx="572" cy="1169" r="4.5"/><text class="ct" x="512" y="1173">nadh[m]</text></g>
<g id="c133" class="c"><circle cx="599" cy="1184" r="4.5"/><text class="ct" x="548" y="1188">co2[m]</text></g>
</g>

<g id="reactions">
<g id="r_HXT" class="rx"><rect x="197" y="33" width="31" height="23"/><text class="b" x="212.5" y="49.5">HXT</text><circle cx="188" cy="45" r="5.5"/><text class="f" x="138" y="52">15.33</text></g>
<g id="r_HXK" class="rx"><rect x="147" y="104" width="33" height="23"/><text class="b" x="163.5" y="120.5">HXK</text><circle cx="188" cy="115" r="5.5"/><text class="f" x="143" y="141">15.33</text></g>
<g id="r_ZWF" class="rx"><rect x="215" y="174" width="35" height="23"/><text class="b" x="232.5" y="190.5">ZWF</text><circle cx="233" cy="165" r="5.5"/><text class="f" x="238" y="157">1.24</text></g>
<g id="r_PGI" class="rx"><rect x="197" y="202" width="26" height="23"/><text class="b" x="210" y="218.5">PGI</text><circle cx="188" cy="213" r="5.5"/><text class="f" x="140" y="234">13.42</text></g>
<g id="r_GND1" class="rx"><rect x="314" y="174" width="43" height="23"/><text class="b" x="335.5" y="190.5">GND1</text><circle cx="335" cy="165" r="5.5"/><text class="f" x="323" y="154">1.24</text></g>
<g id="r_GND2" class="rx"><rect x="412" y="174" width="43" height="23"/><text class="b" x="433.5" y="190.5">GND2</text><circle cx="433" cy="165" r="5.5"/><text class="f" x="417" y="154">1.24</text></g>
<g id="r_BIO" class="rx"><rect x="378" y="16" width="31" height="23"/><text class="b" x="393.5" y="32.5">BIO</text><circle cx="417" cy="45" r="5.5"/><text class="f" x="378" y="66">0.36</text></g>
<g id="r_RPE" class="rx"><rect x="407" y="219" width="31" height="23"/><text class="b" x="422.5" y="235.5">RPE</text><circle cx="447" cy="230" r="5.5"/><text class="f" x="422" y="214">0.71</text></g>
<g id="r_TKL2" class="rx"><rect x="315" y="231" width="37" height="23"/><text class="b" x="333.5" y="247.5">TKL2</text><circle cx="335" cy="262" r="5.5"/></g>
<g id="r_TAL" class="rx"><rect x="297" y="332" width="29" height="23"/><text class="b" x="311.5" y="348.5">TAL</text><circle cx="288" cy="343" r="5.5"/><text class="f" x="313" y="327">0.40</text></g>
<g id="r_PFK" class="rx"><rect x="197" y="300" width="30" height="23"/><text class="b" x="212" y="316.5">PFK</text><circle cx="188" cy="310" r="5.5"/><text class="f" x="145" y="336">13.81</text></g>
<g id="r_FBA" class="rx"><rect x="148" y="381" width="32" height="23"/><text class="b" x="164" y="397.5">FBA</text><circle cx="188" cy="409" r="5.5"/><text class="f" x="198" y="429">13.81</text></g>
<g id="r_TPI" class="rx"><rect x="123" y="427" width="24" height="23"/><text class="b" x="135" y="443.5">TPI</text><circle cx="135" cy="457" r="5.5"/><text class="f" x="95" y="473">12.62</text></g>
<g id="r_TKL1" class="rx"><rect x="293" y="427" width="33" height="23"/><text class="b" x="309.5" y="443.5">TKL1</text><circle cx="312" cy="457" r="5.5"/></g>
<g id="r_RKI" class="rx"><rect x="427" y="394" width="27" height="23"/><text class="b" x="440.5" y="410.5">RKI</text><circle cx="417" cy="404" r="5.5"/><text class="f" x="398" y="355">0.52</text></g>
<g id="r_TDH" class="rx"><rect x="197" y="495" width="33" height="23"/><text class="b" x="213.5" y="511.5">TDH</text><circle cx="188" cy="506" r="5.5"/><text class="f" x="145" y="533">26.77</text></g>
<g id="r_GPD1" class="rx"><rect x="92" y="499" width="41" height="23"/><text class="b" x="112.5" y="515.5">GPD1</text><circle cx="82" cy="510" r="5.5"/><text class="f" x="45" y="491">1.20</text></g>
<g id="r_GPD2" class="rx"><rect x="92" y="597" width="41" height="23"/><text class="b" x="112.5" y="613.5">GPD2</text><circle cx="82" cy="609" r="5.5"/><text class="f" x="100" y="640">1.20</text></g>
<g id="r_PGK" class="rx"><rect x="197" y="594" width="33" height="23"/><text class="b" x="213.5" y="610.5">PGK</text><circle cx="188" cy="605" r="5.5"/><text class="f" x="147" y="587">26.77</text></g>
<g id="r_GLYCt" class="rx"><rect x="93" y="676" width="44" height="23"/><text class="b" x="115" y="692.5">GLYCt</text><circle cx="84" cy="703" r="5.5"/><text class="f" x="45" y="689">1.20</text></g>
<g id="r_GPM" class="rx"><rect x="197" y="692" width="36" height="23"/><text class="b" x="215" y="708.5">GPM</text><circle cx="188" cy="703" r="5.5"/><text class="f" x="200" y="684">26.60</text></g>
<g id="r_ENO" class="rx"><rect x="145" y="789" width="33" height="23"/><text class="b" x="161.5" y="805.5">ENO</text><circle cx="188" cy="801" r="5.5"/><text class="f" x="142" y="784">26.60</text></g>
<g id="r_PEPCK" class="rx"><rect x="240" y="779" width="47" height="23"/><text class="b" x="263.5" y="795.5">PEPCK</text><circle cx="276" cy="819" r="5.5"/><text class="f" x="237" y="843">1.40</text></g>
<g id="r_PYC" class="rx"><rect x="269" y="898" width="31" height="23"/><text class="b" x="284.5" y="914.5">PYC</text><circle cx="286" cy="888" r="5.5"/><text class="f" x="260" y="880">2.82</text></g>
<g id="r_PYK" class="rx"><rect x="148" y="894" width="30" height="23"/><text class="b" x="163" y="910.5">PYK</text><circle cx="188" cy="906" r="5.5"/><text class="f" x="143" y="890">27.82</text></g>
<g id="r_PYRm" class="rx"><rect x="273" y="959" width="44" height="23"/><text class="b" x="295" y="975.5">PYRm</text><circle cx="293" cy="948" r="5.5"/><text class="f" x="295" y="940">0.88</text></g>
<g id="r_PDC" class="rx"><rect x="197" y="986" width="33" height="23"/><text class="b" x="213.5" y="1002.5">PDC</text><circle cx="188" cy="997" r="5.5"/><text class="f" x="200" y="1022">23.92</text></g>
<g id="r_ADH1" class="rx"><rect x="88" y="1032" width="42" height="23"/><text class="b" x="109" y="1048.5">ADH1</text><circle cx="108" cy="1064" r="5.5"/><text class="f" x="100" y="1082">23.22</text></g>
<g id="r_ALD" class="rx"><rect x="197" y="1082" width="31" height="23"/><text class="b" x="212.5" y="1098.5">ALD</text><circle cx="188" cy="1094" r="5.5"/><text class="f" x="205" y="1123">0.70</text></g>
<g id="r_ETOHt" class="rx"><rect x="67" y="1129" width="46" height="23"/><text class="b" x="90" y="1145.5">ETOHt</text><circle cx="57" cy="1157" r="5.5"/><text class="f" x="72" y="1122">23.22</text></g>
<g id="r_ACS" class="rx"><rect x="148" y="1187" width="30" height="23"/><text class="b" x="163" y="1203.5">ACS</text><circle cx="188" cy="1198" r="5.5"/><text class="f" x="210" y="1212">0.00</text></g>
<g id="r_ACE" class="rx"><rect x="88" y="1249" width="29" height="23"/><text class="b" x="102.5" y="1265.5">ACE</text><circle cx="127" cy="1242" r="5.5"/><text class="f" x="86" y="1241">0.70</text></g>
<g id="r_CAT" class="rx"><rect x="240" y="1277" width="30" height="23"/><text class="b" x="255" y="1293.5">CAT</text><circle cx="255" cy="1266" r="5.5"/><text class="f" x="208" y="1285">0.92</text></g>
<g id="r_CARt" class="rx"><rect x="303" y="1187" width="42" height="23"/><text class="b" x="324" y="1203.5">CARt</text><circle cx="357" cy="1207" r="5.5"/><text class="f" x="317" y="1221">0.92</text></g>
<g id="r_ACARt" class="rx"><rect x="293" y="1102" width="50" height="23"/><text class="b" x="318" y="1118.5">ACARt</text><circle cx="350" cy="1113" r="5.5"/><text class="f" x="293" y="1139">0.92</text></g>
<g id="r_YAT" class="rx"><rect x="443" y="1057" width="32" height="23"/><text class="b" x="459" y="1073.5">YAT</text><circle cx="484" cy="1085" r="5.5"/><text class="f" x="448" y="1048">0.92</text></g>
<g id="r_PDA" class="rx"><rect x="407" y="914" width="33" height="23"/><text class="b" x="423.5" y="930.5">PDA</text><circle cx="423" cy="948" r="5.5"/><text class="f" x="408" y="969">1.26</text></g>
<g id="r_CIT" class="rx"><rect x="530" y="953" width="27" height="23"/><text class="b" x="543.5" y="969.5">CIT</text><circle cx="566" cy="964" r="5.5"/><text class="f" x="620" y="916">0.33</text></g>
<g id="r_ACO" class="rx"><rect x="583" y="1054" width="33" height="23"/><text class="b" x="599.5" y="1070.5">ACO</text><circle cx="574" cy="1067" r="5.5"/><text class="f" x="528" y="1092">0.33</text></g>
<g id="r_IDH" class="rx"><rect x="603" y="1119" width="30" height="23"/><text class="b" x="618" y="1135.5">IDH</text><circle cx="594" cy="1145" r="5.5"/><text class="f" x="653" y="1151">0.33</text></g>
<g id="r_KGD" class="rx"><rect x="717" y="1167" width="33" height="23"/><text class="b" x="733.5" y="1183.5">KGD</text><circle cx="733" cy="1198" r="5.5"/><text class="f" x="722" y="1217">1E-4</text></g>
<g id="r_LSC" class="rx"><rect x="864" y="1115" width="28" height="23"/><text class="b" x="878" y="1131.5">LSC</text><circle cx="856" cy="1127" r="5.5"/><text class="f" x="815" y="1130">1E-4</text></g>
<g id="r_SCD" class="rx"><rect x="817" y="985" width="31" height="23"/><text class="b" x="832.5" y="1001.5">SCD</text><circle cx="855" cy="997" r="5.5"/><text class="f" x="818" y="981">0.15</text></g>
<g id="r_SUCCmPI" class="rx"><rect x="935" y="966" width="65" height="23"/><text class="b" x="967.5" y="982.5">SUCCmPI</text><circle cx="925" cy="977" r="5.5"/><text class="f" x="935" y="958">0.15</text></g>
<g id="r_FUM" class="rx"><rect x="854" y="889" width="35" height="23"/><text class="b" x="871.5" y="905.5">FUM</text><circle cx="843" cy="917" r="5.5"/><text class="f" x="810" y="948">0.15</text></g>
<g id="r_MLPIT" class="rx"><rect x="818" y="813" width="47" height="23"/><text class="b" x="841.5" y="829.5">MLPIT</text><circle cx="810" cy="840" r="5.5"/><text class="f" x="733" y="780">0.24</text></g>
<g id="r_MDH" class="rx"><rect x="752" y="875" width="39" height="23"/><text class="b" x="771.5" y="891.5">MDH</text><circle cx="744" cy="901" r="5.5"/><text class="f" x="735" y="928">1E-4</text></g>
<g id="r_MAE" class="rx"><rect x="583" y="873" width="35" height="23"/><text class="b" x="600.5" y="889.5">MAE</text><circle cx="600" cy="864" r="5.5"/><text class="f" x="422" y="875">0.38</text></g>
<g id="r_OAt" class="rx"><rect x="498" y="809" width="32" height="23"/><text class="b" x="514" y="825.5">OAt</text><circle cx="514" cy="840" r="5.5"/><text class="f" x="500" y="857">0.33</text></g>
<g id="r_MDHc" class="rx"><rect x="450" y="761" width="47" height="23"/><text class="b" x="473.5" y="777.5">MDHc</text><circle cx="473" cy="793" r="5.5"/><text class="f" x="505" y="778">0.05</text></g>
<g id="r_ICL" class="rx"><rect x="360" y="595" width="24" height="23"/><text class="b" x="372" y="611.5">ICL</text><circle cx="392" cy="590" r="5.5"/><text class="f" x="385" y="566">0.15</text></g>
<g id="r_MLS" class="rx"><rect x="522" y="682" width="31" height="23"/><text class="b" x="537.5" y="698.5">MLS</text><circle cx="511" cy="709" r="5.5"/><text class="f" x="548" y="720">0.15</text></g>
<g id="r_CITc" class="rx"><rect x="272" y="703" width="31" height="23"/><text class="b" x="287.5" y="719.5">CITc</text><circle cx="312" cy="712" r="5.5"/><text class="f" x="255" y="694">0.15</text></g>
<g id="r_ACOc" class="rx"><rect x="258" y="567" width="40" height="23"/><text class="b" x="278" y="583.5">ACOc</text><circle cx="308" cy="577" r="5.5"/><text class="f" x="272" y="561">0.15</text></g>
<g id="r_NDH" class="rx"><rect x="443" y="480" width="37" height="23"/><text class="b" x="461.5" y="496.5">NDH</text><circle cx="489" cy="492" r="5.5"/><text class="f" x="442" y="518">3.04</text></g>
<g id="r_NDI" class="rx"><rect x="528" y="473" width="30" height="23"/><text class="b" x="543" y="489.5">NDI</text><circle cx="568" cy="485" r="5.5"/><text class="f" x="513" y="513">1.98</text></g>
<g id="r_QCR" class="rx"><rect x="600" y="470" width="32" height="23"/><text class="b" x="616" y="486.5">QCR</text><circle cx="640" cy="482" r="5.5"/><text class="f" x="595" y="506">5.17</text></g>
<g id="r_NDR" class="rx"><rect x="680" y="470" width="35" height="23"/><text class="b" x="697.5" y="486.5">NDR</text><circle cx="723" cy="482" r="5.5"/><text class="f" x="722" y="534">0.90</text></g>
<g id="r_COX" class="rx"><rect x="768" y="470" width="34" height="23"/><text class="b" x="785" y="486.5">COX</text><circle cx="811" cy="482" r="5.5"/><text class="f" x="695" y="420">3.03</text></g>
<g id="r_L_LCAD2cm" class="rx"><rect x="828" y="470" width="84" height="23"/><text class="b" x="870" y="486.5">L_LCAD2cm</text><circle cx="922" cy="482" r="5.5"/><text class="f" x="785" y="379">1E-4</text></g>
<g id="r_L_LACDr" class="rx"><rect x="803" y="600" width="62" height="23"/><text class="b" x="834" y="616.5">L_LACDr</text><circle cx="873" cy="629" r="5.5"/><text class="f" x="887" y="656">1E-4</text></g>
<g id="r_ADK" class="rx"><rect x="753" y="229" width="34" height="23"/><text class="b" x="770" y="245.5">ADK</text><circle cx="770" cy="218" r="5.5"/><text class="f" x="770" y="209">1E-4</text></g>
<g id="r_ASN" class="rx"><rect x="865" y="244" width="33" height="23"/><text class="b" x="881.5" y="260.5">ASN</text><circle cx="856" cy="272" r="5.5"/><text class="f" x="872" y="288">6.50</text></g>
<g id="r_AAC" class="rx"><rect x="615" y="281" width="32" height="23"/><text class="b" x="631" y="297.5">AAC</text><circle cx="630" cy="272" r="5.5"/><text class="f" x="617" y="261">6.50</text></g>
<g id="r_ATPM" class="rx"><rect x="597" y="353" width="45" height="23"/><text class="b" x="619.5" y="369.5">ATPM</text><circle cx="620" cy="343" r="5.5"/><text class="f" x="630" y="327">14.87</text></g>
<g id="r_CO2m" class="rx"><rect x="338" y="1297" width="44" height="23"/><text class="b" x="360" y="1313.5">CO2m</text><circle cx="328" cy="1306" r="5.5"/><text class="f" x="342" y="1332">1.98</text></g>
<g id="r_CO2t" class="rx"><rect x="336" y="1372" width="40" height="23"/><text class="b" x="356" y="1388.5">CO2t</text><circle cx="328" cy="1383" r="5.5"/><text class="f" x="285" y="1394">26.58</text></g>
<g id="r_COH" class="rx"><rect x="230" y="1360" width="33" height="23"/><text class="b" x="246.5" y="1376.5">COH</text><circle cx="247" cy="1350" r="5.5"/><text class="f" x="277" y="1362">2.82</text></g>
<g id="r_O2m" class="rx"><rect x="420" y="1295" width="37" height="23"/><text class="b" x="438.5" y="1311.5">O2m</text><circle cx="411" cy="1306" r="5.5"/><text class="f" x="427" y="1331">3.03</text></g>
<g id="r_O2t" class="rx"><rect x="420" y="1382" width="30" height="23"/><text class="b" x="435" y="1398.5">O2t</text><circle cx="411" cy="1393" r="5.5"/><text class="f" x="375" y="1407">3.14</text></g>
<g id="r_PIm" class="rx"><rect x="475" y="1296" width="29" height="23"/><text class="b" x="489.5" y="1312.5">PIm</text><circle cx="514" cy="1306" r="5.5"/><text class="f" x="528" y="1312">6.88</text></g>
<g id="r_PIt" class="rx"><rect x="522" y="1380" width="23" height="23"/><text class="b" x="533.5" y="1396.5">PIt</text><circle cx="514" cy="1392" r="5.5"/><text class="f" x="528" y="1416">0.11</text></g>
<g id="r_PPP" class="rx"><rect x="565" y="1311" width="30" height="23"/><text class="b" x="580" y="1327.5">PPP</text><circle cx="555" cy="1322" r="5.5"/><text class="f" x="562" y="1346">0.21</text></g>
<g id="r_NH4t" class="rx"><rect x="652" y="1372" width="38" height="23"/><text class="b" x="671" y="1388.5">NH4t</text><circle cx="644" cy="1383" r="5.5"/><text class="f" x="668" y="1407">1.87</text></g>
<g id="r_SO4t" class="rx"><rect x="752" y="1372" width="38" height="23"/><text class="b" x="771" y="1388.5">SO4t</text><circle cx="744" cy="1383" r="5.5"/><text class="f" x="760" y="1367">0.02</text></g>
</g>

<g id="metabolites">
<g id="m_glc_e" class="Y"><circle cx="188" cy="17" r="9"/><text class="mt e" x="176" y="22">glc[e]</text></g>
<g id="m_glc" class="M"><circle cx="188" cy="83" r="9"/><text class="mt e" x="176" y="88">glc</text></g>
<g id="m_g6p" class="G"><circle cx="188" cy="165" r="9"/><text class="mt e" x="176" y="170">g6p</text></g>
<g id="m_f6p" class="G"><circle cx="188" cy="262" r="9"/><text class="mt" x="200" y="251">f6p</text></g>
<g id="m_fbp" class="M"><circle cx="188" cy="359" r="9"/><text class="mt" x="201" y="364">fbp</text></g>
<g id="m_t3p" class="M"><circle cx="188" cy="457" r="9"/><text class="mt" x="149" y="448">t3p</text></g>
<g id="m_dhap" class="M"><circle cx="82" cy="457" r="9"/><text class="mt e" x="70" y="462">dhap</text></g>
<g id="m_g3p" class="M"><circle cx="82" cy="560" r="9"/><text class="mt e" x="70" y="565">g3p</text></g>
<g id="m_glyc" class="M"><circle cx="82" cy="659" r="9"/><text class="mt" x="97" y="664">glyc</text></g>
<g id="m_glyc_e" class="Y"><circle cx="84" cy="744" r="9"/><text class="mt md" x="84" y="772">glyc[e]</text></g>
<g id="m_dpg" class="M"><circle cx="188" cy="556" r="9"/><text class="mt e" x="176" y="561">dpg</text></g>
<g id="m_3pg" class="M"><circle cx="188" cy="654" r="9"/><text class="mt e" x="176" y="659">3pg</text></g>
<g id="m_2pg" class="M"><circle cx="188" cy="751" r="9"/><text class="mt e" x="176" y="756">2pg</text></g>
<g id="m_pep" class="G"><circle cx="188" cy="850" r="9"/><text class="mt e" x="176" y="855">pep</text></g>
<g id="m_pyr" class="G"><circle cx="188" cy="947" r="9"/><text class="mt e" x="176" y="939">pyr</text></g>
<g id="m_aald" class="M"><circle cx="188" cy="1046" r="9"/><text class="mt" x="202" y="1051">aald</text></g>
<g id="m_etoh" class="M"><circle cx="57" cy="1113" r="9"/><text class="mt e" x="44" y="1118">etoh</text></g>
<g id="m_etoh_e" class="Y"><circle cx="57" cy="1195" r="9"/><text class="mt md" x="57" y="1223">etoh[e]</text></g>
<g id="m_acet" class="M"><circle cx="188" cy="1151" r="9"/><text class="mt" x="202" y="1156">acet</text></g>
<g id="m_accoa" class="G"><circle cx="188" cy="1267" r="9"/><text class="mt e" x="175" y="1272">accoa</text></g>
<g id="m_acet_e" class="Y"><circle cx="128" cy="1332" r="9"/><text class="mt e" x="115" y="1337">acet[e]</text></g>
<g id="m_coa" class="M"><circle cx="229" cy="1242" r="9"/><text class="mt" x="243" y="1230">coa</text></g>
<g id="m_acar" class="M"><circle cx="282" cy="1193" r="9"/><text class="mt e" x="270" y="1182">acar</text></g>
<g id="m_car" class="M"><circle cx="328" cy="1238" r="9"/><text class="mt e" x="315" y="1243">car</text></g>
<g id="m_car_m" class="M"><circle cx="423" cy="1140" r="9"/><text class="mt" x="433" y="1145">car[m]</text></g>
<g id="m_acar_m" class="M"><circle cx="402" cy="1085" r="9"/><text class="mt md" x="402" y="1070">acar[m]</text></g>
<g id="m_co2_m" class="M"><circle cx="328" cy="1285" r="9"/><text class="mt e" x="351" y="1271">co2[m]</text></g>
<g id="m_o2_m" class="M"><circle cx="411" cy="1267" r="9"/><text class="mt e" x="398" y="1272">o2[m]</text></g>
<g id="m_co2" class="M"><circle cx="328" cy="1347" r="9"/><text class="mt e" x="315" y="1337">co2</text></g>
<g id="m_co2_e" class="Y"><circle cx="328" cy="1418" r="9"/><text class="mt e" x="314" y="1423">co2[e]</text></g>
<g id="m_hco3" class="M"><circle cx="166" cy="1350" r="9"/><text class="mt md" x="166" y="1378">hco3</text></g>
<g id="m_o2" class="M"><circle cx="411" cy="1347" r="9"/><text class="mt e" x="398" y="1352">o2</text></g>
<g id="m_o2_e" class="Y"><circle cx="411" cy="1418" r="9"/><text class="mt e" x="398" y="1423">o2[e]</text></g>
<g id="m_pi_m" class="M"><circle cx="514" cy="1267" r="9"/><text class="mt e" x="500" y="1272">pi[m]</text></g>
<g id="m_pi" class="M"><circle cx="514" cy="1347" r="9"/><text class="mt e" x="499" y="1350">pi</text></g>
<g id="m_pi_e" class="Y"><circle cx="514" cy="1418" r="9"/><text class="mt e" x="500" y="1423">pi[e]</text></g>
<g id="m_nh4" class="M"><circle cx="644" cy="1345" r="9"/><text class="mt e" x="632" y="1350">nh4</text></g>
<g id="m_nh4_e" class="Y"><circle cx="644" cy="1414" r="9"/><text class="mt e" x="632" y="1419">nh4[e]</text></g>
<g id="m_so4" class="M"><circle cx="744" cy="1345" r="9"/><text class="mt e" x="731" y="1350">so4</text></g>
<g id="m_so4_e" class="Y"><circle cx="744" cy="1414" r="9"/><text class="mt e" x="731" y="1419">so4[e]</text></g>
<g id="m_biomass" class="M"><circle cx="356" cy="45" r="9"/><text class="mt e" x="343" y="51">biomass</text></g>
<g id="m_6pgl" class="M"><circle cx="293" cy="165" r="9"/><text class="mt" x="278" y="150">6pgl</text></g>
<g id="m_6pgc" class="M"><circle cx="385" cy="165" r="9"/><text class="mt" x="367" y="192">6pgc</text></g>
<g id="m_rl5p" class="M"><circle cx="489" cy="165" r="9"/><text class="mt" x="503" y="170">rl5p</text></g>
<g id="m_x5p" class="M"><circle cx="392" cy="262" r="9"/><text class="mt" x="406" y="287">x5p</text></g>
<g id="m_e4p" class="G"><circle cx="333" cy="303" r="9"/><text class="mt" x="345" y="308">e4p</text></g>
<g id="m_s7p" class="M"><circle cx="338" cy="372" r="9"/><text class="mt" x="351" y="377">s7p</text></g>
<g id="m_r5p" class="G"><circle cx="385" cy="458" r="9"/><text class="mt" x="399" y="463">r5p</text></g>
<g id="m_icit" class="M"><circle cx="342" cy="544" r="9"/><text class="mt" x="355" y="549">icit</text></g>
<g id="m_cit" class="M"><circle cx="291" cy="642" r="9"/><text class="mt e" x="278" y="647">cit</text></g>
<g id="m_suc" class="M"><circle cx="448" cy="605" r="9"/><text class="mt" x="437" y="592">suc</text></g>
<g id="m_glyx" class="M"><circle cx="448" cy="649" r="9"/><text class="mt" x="462" y="639">glyx</text></g>
<g id="m_oaa" class="G"><circle cx="381" cy="773" r="9"/><text class="mt e" x="367" y="778">oaa</text></g>
<g id="m_mal" class="M"><circle cx="582" cy="762" r="9"/><text class="mt e" x="569" y="767">mal</text></g>
<g id="m_pyr_m" class="G"><circle cx="382" cy="948" r="9"/><text class="mt" x="358" y="976">pyr[m]</text></g>
<g id="m_accoa_m" class="G"><circle cx="484" cy="948" r="9"/><text class="mt" x="497" y="937">accoa[m]</text></g>
<g id="m_coa_m" class="M"><circle cx="555" cy="1035" r="9"/><text class="mt e" x="542" y="1040">coa[m]</text></g>
<g id="m_cit_m" class="M"><circle cx="574" cy="1036" r="9"/><text class="mt" x="587" y="1025">cit[m]</text></g>
<g id="m_icit_m" class="M"><circle cx="574" cy="1113" r="9"/><text class="mt e" x="562" y="1118">icit[m]</text></g>
<g id="m_akg_m" class="G"><circle cx="647" cy="1199" r="9"/><text class="mt e" x="633" y="1204">akg[m]</text></g>
<g id="m_succoa_m" class="M"><circle cx="816" cy="1200" r="9"/><text class="mt" x="780" y="1185">succoa[m]</text></g>
<g id="m_suc_m" class="M"><circle cx="856" cy="1045" r="9"/><text class="mt e" x="842" y="1050">suc[m]</text></g>
<g id="m_fum_m" class="M"><circle cx="855" cy="946" r="9"/><text class="mt" x="868" y="951">fum[m]</text></g>
<g id="m_mal_m" class="M"><circle cx="809" cy="901" r="9"/><text class="mt md" x="809" y="929">mal[m]</text></g>
<g id="m_oaa_m" class="M"><circle cx="665" cy="901" r="9"/><text class="mt md" x="663" y="929">oaa[m]</text></g>
<g id="m_pyr2" class="G"><circle cx="905" cy="394" r="9"/><text class="mt" x="918" y="384">pyr</text></g>
<g id="m_lac" class="M"><circle cx="905" cy="608" r="9"/><text class="mt" x="899" y="634">lac</text></g>
<g id="m_lac_e" class="Y"><circle cx="857" cy="688" r="9"/><text class="mt" x="870" y="693">lac[e]</text></g>
<g id="m_ferI_m" class="M"><circle cx="681" cy="407" r="9"/><text class="mt md" x="681" y="392">ferI[m]</text></g>
<g id="m_qh2_m" class="M"><circle cx="641" cy="429" r="9"/><text class="mt md" x="642" y="413">qh2[m]</text></g>
<g id="m_q_m" class="M"><circle cx="641" cy="535" r="9"/><text class="mt md" x="641" y="562">q[m]</text></g>
<g id="m_fero_m" class="M"><circle cx="685" cy="569" r="9"/><text class="mt md" x="686" y="595">fero[m]</text></g>
</g>
</svg>
